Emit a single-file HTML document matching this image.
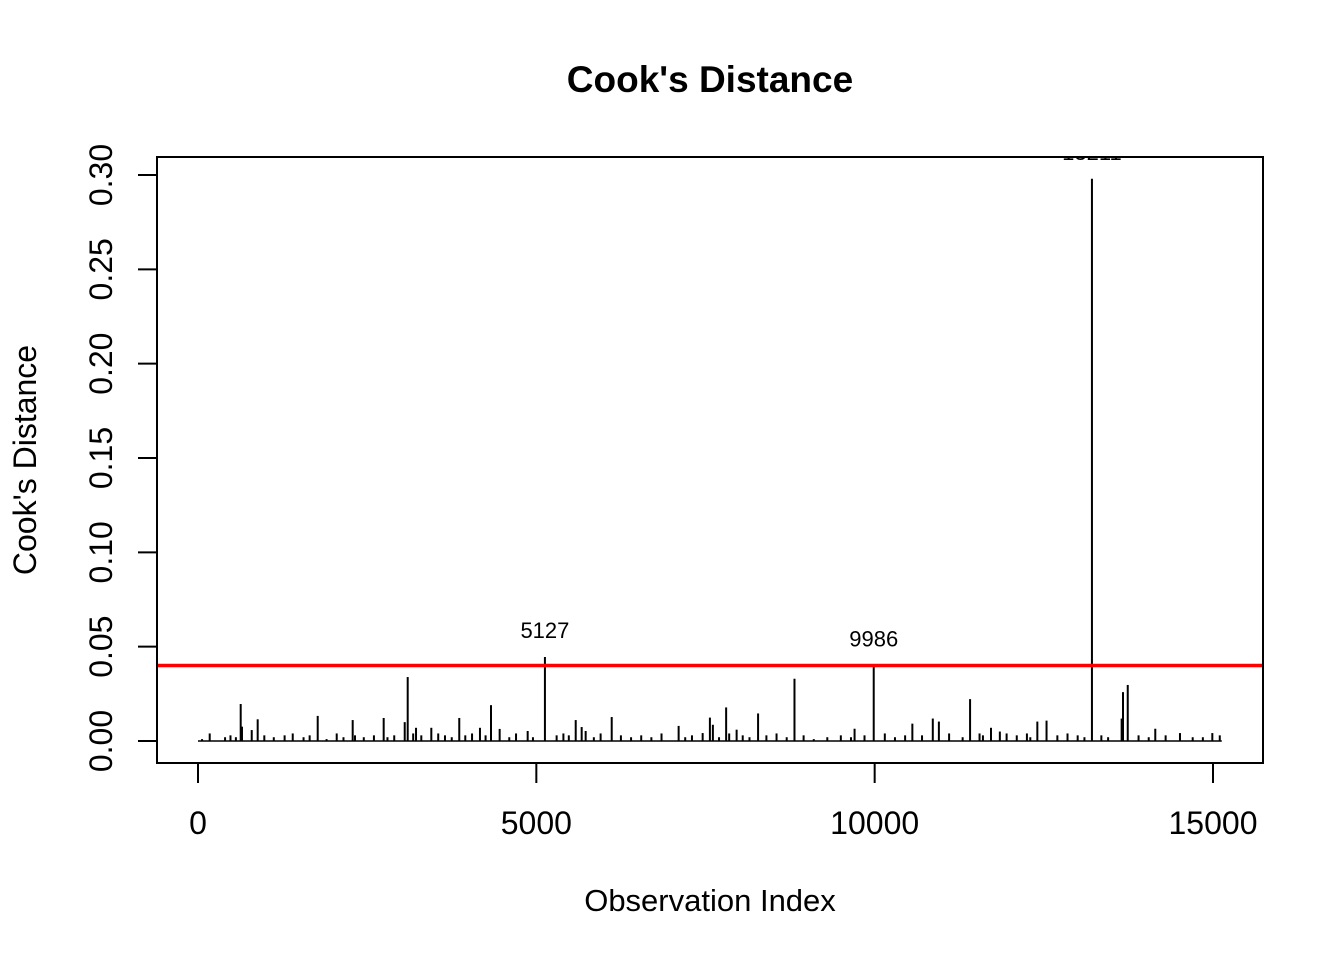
<!DOCTYPE html>
<html><head><meta charset="utf-8"><style>
html,body{margin:0;padding:0;background:#fff;}
svg{display:block;font-family:"Liberation Sans",Arial,sans-serif;}
</style></head><body>
<svg id="chart" width="1344" height="960" xmlns="http://www.w3.org/2000/svg">
<defs><clipPath id="plotclip"><rect x="157" y="157" width="1106" height="606"/></clipPath></defs>
<text x="710" y="92" text-anchor="middle" font-size="37" font-weight="bold">Cook's Distance</text>
<g id="marks" clip-path="url(#plotclip)"></g>
<rect x="157" y="157" width="1106" height="606" fill="none" stroke="#000" stroke-width="2"/>
<g id="xaxis"></g>
<g id="yaxis"></g>
<text x="710" y="911" text-anchor="middle" font-size="31">Observation Index</text>
<text transform="translate(36,460) rotate(-90)" text-anchor="middle" font-size="32">Cook's Distance</text>
</svg>
<script>
const obsIndex = [173,631,650,794,882,1769,2286,2744,3055,3099,3222,3448,3861,4167,4330,4458,4872,5127,5582,5670,5729,6114,7103,7458,7565,7609,7805,7960,8277,8815,9703,9986,10557,10859,10949,11410,11719,12404,12540,13211,13650,13670,13740,14147,14512,14990,
 60,400,480,560,980,1120,1280,1400,1560,1650,1900,2050,2150,2320,2450,2600,2800,2900,3180,3300,3550,3650,3750,3950,4050,4250,4600,4700,4950,5300,5400,5480,5850,5950,6250,6400,6550,6700,6850,7200,7300,7700,7850,8050,8150,8400,8550,8700,8950,9100,9300,9500,9650,9850,10150,10300,10450,10700,11100,11300,11550,11600,11850,11950,12100,12250,12300,12700,12850,13000,13100,13350,13450,13900,14050,14300,14700,14850,15100];
const cooksD = [0.004,0.0196,0.0076,0.0058,0.0115,0.0133,0.0111,0.0122,0.0100,0.0339,0.0070,0.0070,0.0122,0.0070,0.0190,0.0064,0.0053,0.0445,0.0111,0.0074,0.0053,0.0127,0.0080,0.0042,0.0124,0.0086,0.0178,0.0060,0.0146,0.0330,0.0065,0.0400,0.0092,0.0119,0.0103,0.0222,0.0070,0.0103,0.0108,0.2980,0.0119,0.0259,0.0297,0.0065,0.0042,0.0042,
 0.001,0.002,0.003,0.002,0.003,0.002,0.003,0.004,0.002,0.003,0.001,0.004,0.002,0.003,0.002,0.003,0.002,0.003,0.004,0.003,0.004,0.003,0.002,0.003,0.004,0.003,0.002,0.004,0.002,0.003,0.004,0.003,0.002,0.004,0.003,0.002,0.003,0.002,0.004,0.002,0.003,0.002,0.004,0.003,0.002,0.003,0.004,0.002,0.003,0.001,0.002,0.003,0.002,0.003,0.004,0.002,0.003,0.003,0.004,0.002,0.004,0.003,0.005,0.004,0.003,0.004,0.002,0.003,0.004,0.003,0.002,0.003,0.002,0.003,0.002,0.003,0.002,0.002,0.003];
const labeledIdx = [5127,9986,13211];
const threshold = 0.04;
const xTicks = [0,5000,10000,15000];
const xTickLabels = ["0","5000","10000","15000"];
const yTicks = [0,0.05,0.10,0.15,0.20,0.25,0.30];
const yTickLabels = ["0.00","0.05","0.10","0.15","0.20","0.25","0.30"];
const nObs = 15130;

const NS="http://www.w3.org/2000/svg";
const xS = v => 198 + v*(1213-198)/15000;
const yS = v => 741 - v*(741-175)/0.30;
function mk(tag, attrs, parent){const e=document.createElementNS(NS,tag);for(const k in attrs)e.setAttribute(k,attrs[k]);parent.appendChild(e);return e;}
const marks=document.getElementById('marks');
let base=mk('line',{x1:xS(0),x2:xS(nObs),y1:yS(0),y2:yS(0),stroke:'#000','stroke-width':1.5},marks);


obsIndex.forEach((ix,i)=>{
  const v=cooksD[i];
  if(v===undefined) return;
  const l=mk('line',{x1:xS(ix),x2:xS(ix),y1:yS(0),y2:yS(v),stroke:'#000','stroke-width':2},marks);
  
  
});
labeledIdx.forEach(ix=>{
  const i=obsIndex.indexOf(ix);
  const t=mk('text',{x:xS(ix),y:yS(cooksD[i])-19,'text-anchor':'middle','font-size':22},marks);
  t.textContent=String(ix);
  
  
});
const th=mk('line',{x1:157,x2:1263,y1:yS(threshold),y2:yS(threshold),stroke:'#ff0000','stroke-width':3.5},marks);


const xa=document.getElementById('xaxis');
xTicks.forEach((v,i)=>{
  const l=mk('line',{x1:xS(v),x2:xS(v),y1:763,y2:783,stroke:'#000','stroke-width':2},xa);
  
  
  const t=mk('text',{x:xS(v),y:834,'text-anchor':'middle','font-size':32},xa);
  t.textContent=xTickLabels[i];
  
  
});
const ya=document.getElementById('yaxis');
yTicks.forEach((v,i)=>{
  const l=mk('line',{x1:138,x2:157,y1:yS(v),y2:yS(v),stroke:'#000','stroke-width':2},ya);
  
  
  const t=mk('text',{transform:`translate(112,${yS(v)}) rotate(-90)`,'text-anchor':'middle','font-size':32},ya);
  t.textContent=yTickLabels[i];
  
  
});
</script>
</body></html>
